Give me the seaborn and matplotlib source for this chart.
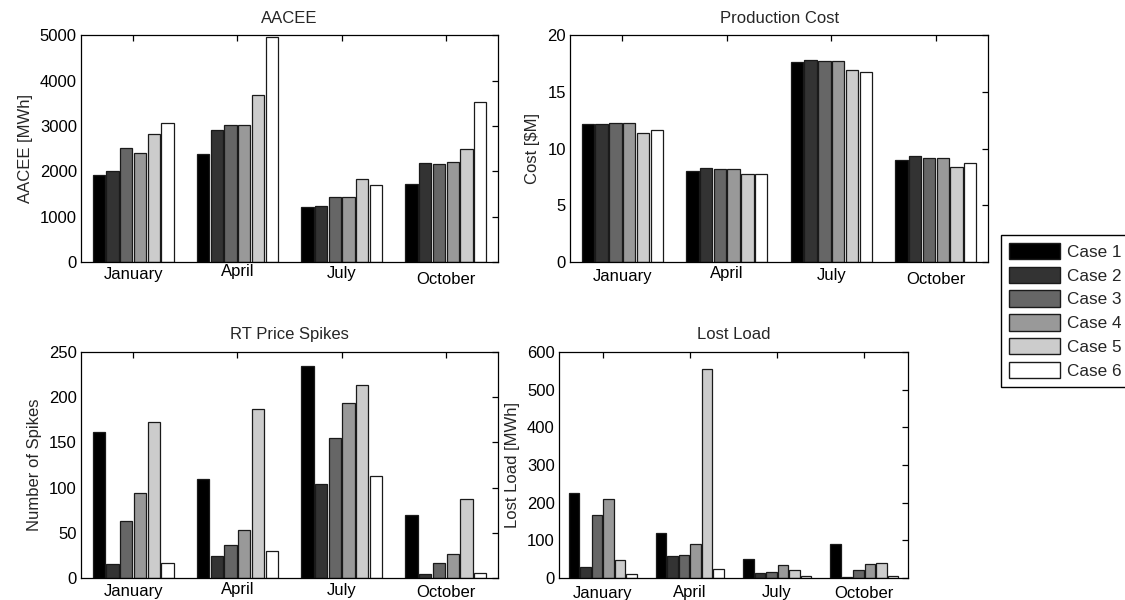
import matplotlib
matplotlib.use("Agg")
import matplotlib.pyplot as plt
import matplotlib.transforms as mtransforms
from matplotlib.patches import Patch
import seaborn as sns
import pandas as pd

# Daten (je Monat: Case 1 .. Case 6)
MONTHS = ["January", "April", "July", "October"]
CASES = ["Case 1", "Case 2", "Case 3", "Case 4", "Case 5", "Case 6"]
GRAYS = ["#000000", "#333333", "#666666", "#999999", "#cccccc", "#ffffff"]

AACEE = [
    [1920, 2000, 2520, 2400, 2830, 3060],
    [2380, 2920, 3030, 3030, 3690, 4970],
    [1210, 1230, 1430, 1430, 1830, 1690],
    [1720, 2180, 2150, 2200, 2490, 3520],
]
COST = [
    [12.2, 12.2, 12.3, 12.3, 11.4, 11.6],
    [8.0, 8.3, 8.2, 8.2, 7.75, 7.75],
    [17.6, 17.8, 17.7, 17.7, 16.9, 16.8],
    [9.0, 9.35, 9.2, 9.2, 8.4, 8.75],
]
SPIKES = [
    [162, 16, 63, 94, 173, 17],
    [110, 24, 37, 53, 187, 30],
    [234, 104, 155, 194, 214, 113],
    [70, 4, 17, 27, 87, 5],
]
LOST_LOAD = [
    [226, 30, 167, 209, 48, 10],
    [119, 58, 61, 89, 556, 23],
    [51, 13, 17, 34, 20, 6],
    [89, 3, 20, 37, 41, 6],
]

PANELS = [
    # titel, ylabel, daten, ylim, ytick-schritt, achsen-position, label-offsets (px)
    ("AACEE", "AACEE [MWh]", AACEE, 5000, 1000, [0.072, 0.5633, 0.3707, 0.378], [5, 2, 4, 10]),
    ("Production Cost", "Cost [$M]", COST, 20, 5, [0.5067, 0.5633, 0.3716, 0.378], [7, 4, 6, 10]),
    ("RT Price Spikes", "Number of Spikes", SPIKES, 250, 50, [0.072, 0.0367, 0.3707, 0.3767], [6, 4, 5, 7]),
    ("Lost Load", "Lost Load [MWh]", LOST_LOAD, 600, 100, [0.4969, 0.0367, 0.3102, 0.3767], [8, 7, 7, 8]),
]

sns.set_theme(style="white")
plt.rcParams["font.family"] = ["Liberation Sans", "DejaVu Sans"]
plt.rcParams["font.size"] = 12


def to_frame(values):
    rows = []
    for month, vals in zip(MONTHS, values):
        for case, v in zip(CASES, vals):
            rows.append({"Month": month, "Case": case, "Value": v})
    return pd.DataFrame(rows)


fig = plt.figure(figsize=(11.25, 6), dpi=100)

for title, ylabel, values, ymax, ystep, pos, offsets in PANELS:
    ax = fig.add_axes(pos)
    df = to_frame(values)
    sns.barplot(
        data=df, x="Month", y="Value", hue="Case",
        order=MONTHS, hue_order=CASES, palette=GRAYS,
        width=0.79, gap=0.1, edgecolor="#1a1a1a", linewidth=0.9,
        errorbar=None, legend=False, ax=ax,
    )
    ax.set_xlim(-0.5, 3.5)
    ax.set_ylim(0, ymax)
    ax.set_yticks(range(0, ymax + 1, ystep))
    ax.set_title(title, fontsize=12, pad=9)
    ax.set_ylabel(ylabel, fontsize=12, labelpad=5)
    ax.set_xlabel("")
    for side in ["top", "right", "bottom", "left"]:
        ax.spines[side].set_visible(True)
        ax.spines[side].set_color("black")
        ax.spines[side].set_linewidth(0.9)
    ax.tick_params(axis="both", direction="in", length=4, width=0.9, color="black",
                   top=True, right=True, labelsize=12, labelcolor="black")
    ax.tick_params(axis="x", pad=0)
    ax.tick_params(axis="y", pad=3)
    # MATLAB-typisch leicht versetzte Monatsbeschriftungen
    for lbl, dy in zip(ax.get_xticklabels(), offsets):
        lbl.set_transform(lbl.get_transform()
                          + mtransforms.ScaledTranslation(0, -dy * 0.72 / 72, fig.dpi_scale_trans))

handles = [Patch(facecolor=c, edgecolor="#1a1a1a", linewidth=1) for c in GRAYS]
leg = fig.legend(
    handles, CASES, loc="upper left", bbox_to_anchor=(1001 / 1125, 1 - 235 / 600),
    borderaxespad=0, fancybox=False, framealpha=1, edgecolor="black",
    fontsize=12.3, handlelength=3.0, handleheight=1.1, handletextpad=0.4,
    labelspacing=0.4, borderpad=0.45,
)
leg.get_frame().set_linewidth(1)

fig.savefig("out.png", dpi=100)
plt.close(fig)
